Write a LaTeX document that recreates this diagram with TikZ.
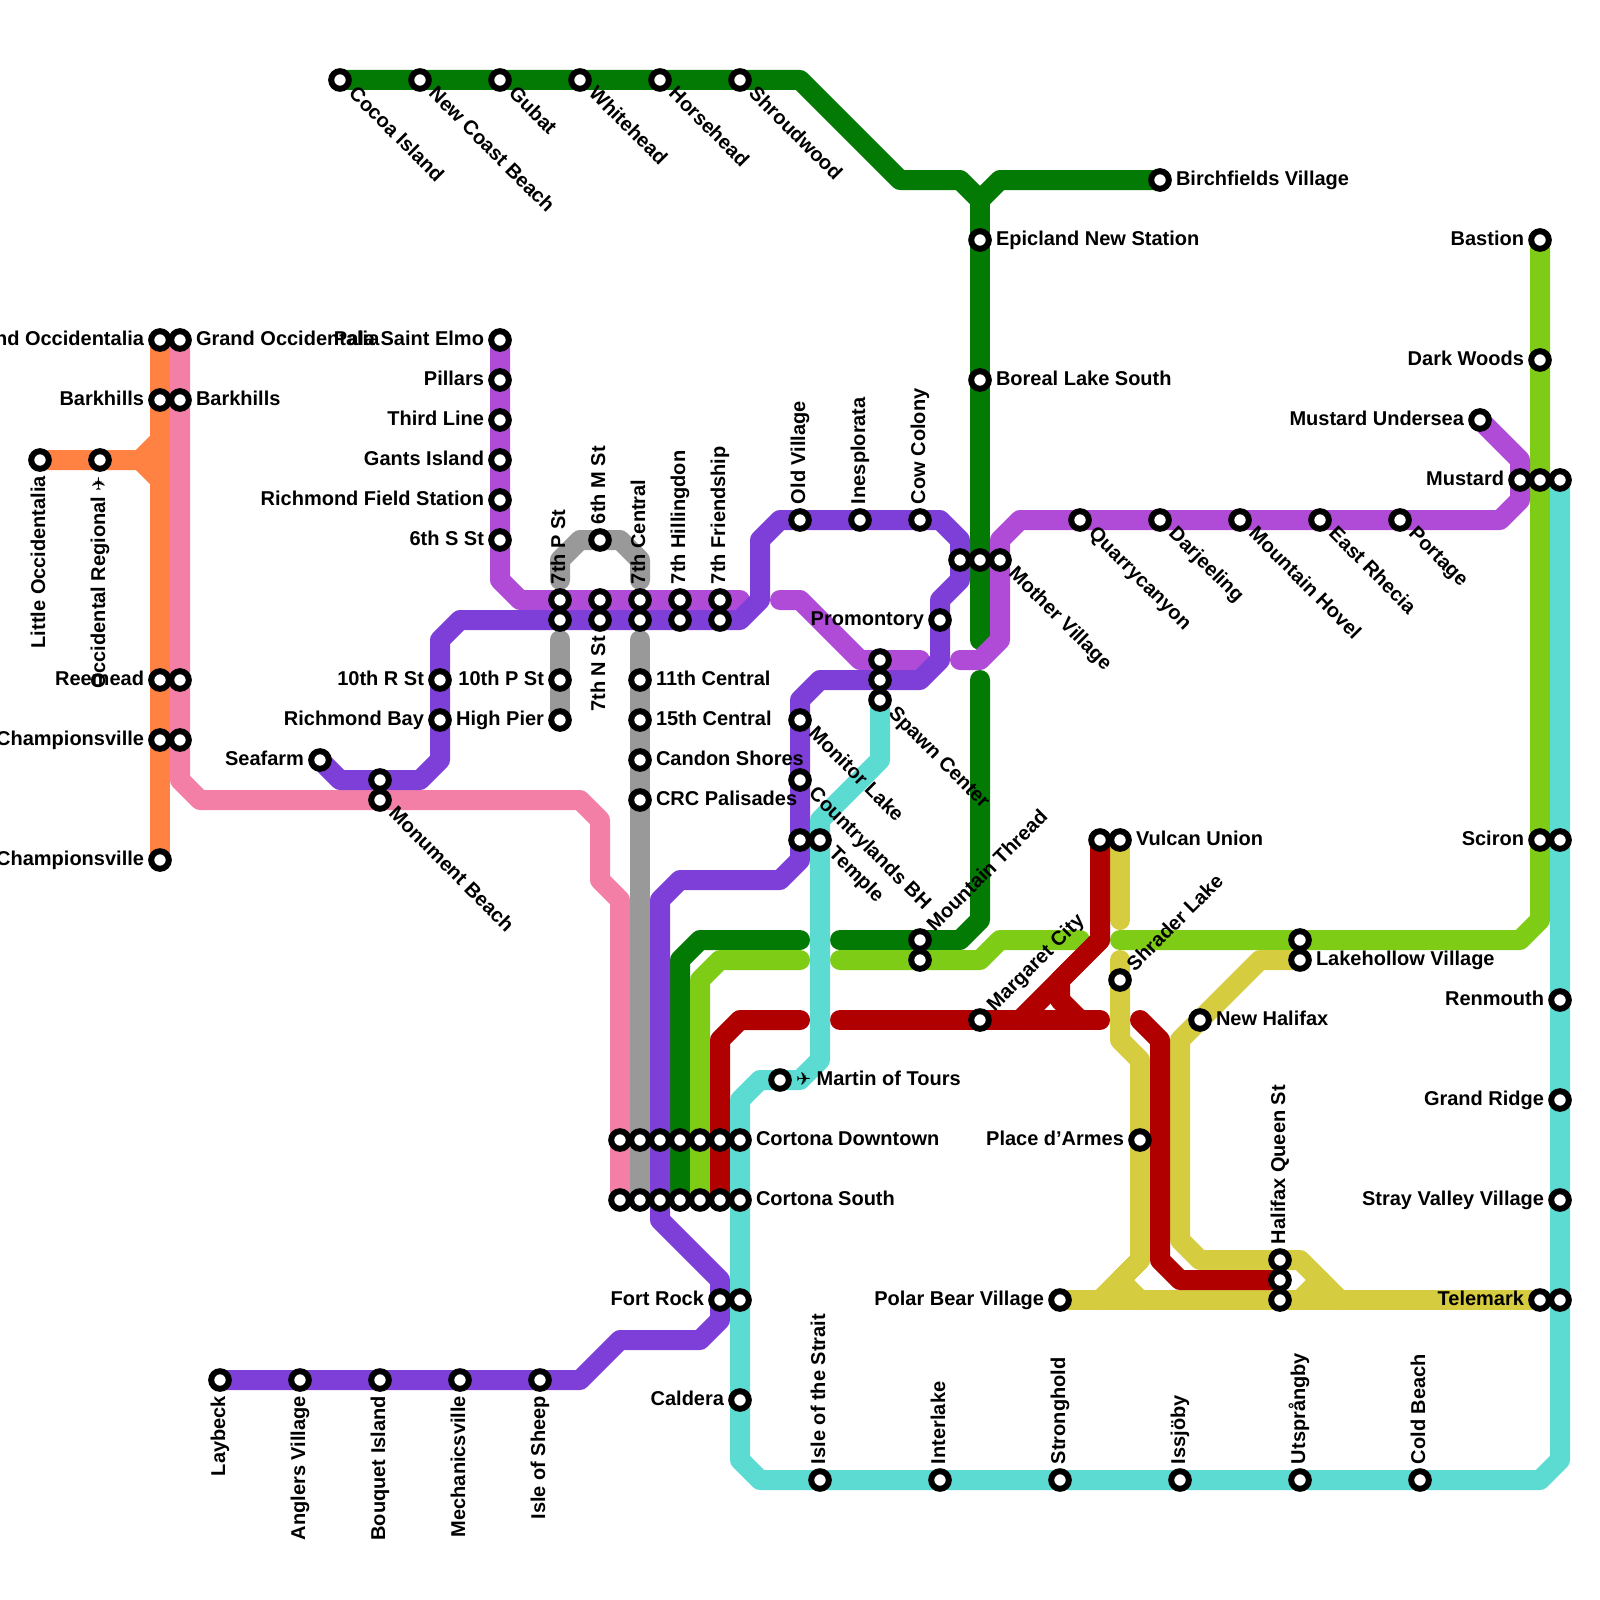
\documentclass[tikz,border=0pt]{standalone}
\usepackage{fontspec}
\setmainfont{Liberation Sans}[BoldFont={Liberation Sans Bold}]
\newfontfamily\symfont{DejaVu Sans}
\usetikzlibrary{backgrounds}
\newcommand{\plane}{{\symfont\fontsize{9}{9}\selectfont ✈}}
\tikzset{
  x=10pt,y=-10pt,
  stn/.style={circle,draw=black,fill=white,line width=3pt,minimum size=8.8pt,inner sep=0pt,outer sep=0pt},
  lab/.style={font=\bfseries\fontsize{10}{12}\selectfont,inner sep=0pt,outer sep=0pt,text=black},
  route/.style={line width=10pt,line cap=round,line join=round},
  orangeln/.style={route,draw=lnOrange},
  pinkln/.style={route,draw=lnPink},
  grayln/.style={route,draw=lnGray},
  greenln/.style={route,draw=lnGreen},
  limeln/.style={route,draw=lnLime},
  yellowln/.style={route,draw=lnYellow},
  redln/.style={route,draw=lnRed},
  orchidln/.style={route,draw=lnOrchid},
  purpleln/.style={route,draw=lnPurple},
  turqln/.style={route,draw=lnTurq},
}
\definecolor{lnOrange}{HTML}{FF8243}
\definecolor{lnPink}{HTML}{F47FA6}
\definecolor{lnGray}{HTML}{999999}
\definecolor{lnGreen}{HTML}{037A03}
\definecolor{lnLime}{HTML}{7FCC17}
\definecolor{lnYellow}{HTML}{D6CC40}
\definecolor{lnRed}{HTML}{B00000}
\definecolor{lnOrchid}{HTML}{B04BD8}
\definecolor{lnPurple}{HTML}{7E3FD8}
\definecolor{lnTurq}{HTML}{5CDBD3}
% station only
\newcommand{\st}[3]{\node[stn] (#1) at (#2,#3) {};}
% station with label: id x y text
\newcommand{\stR}[4]{\st{#1}{#2}{#3}\node[lab,anchor=base west] (#1t) at ([xshift=8pt,yshift=-2.5pt]#2,#3) {#4};}
\newcommand{\stL}[4]{\st{#1}{#2}{#3}\node[lab,anchor=base east] (#1t) at ([xshift=-8pt,yshift=-2.5pt]#2,#3) {#4};}
\newcommand{\stU}[4]{\st{#1}{#2}{#3}\node[lab,rotate=90,anchor=base west] (#1t) at ([xshift=2.5pt,yshift=8pt]#2,#3) {#4};}
\newcommand{\stD}[4]{\st{#1}{#2}{#3}\node[lab,rotate=90,anchor=base east] (#1t) at ([xshift=2.5pt,yshift=-8pt]#2,#3) {#4};}
\newcommand{\stSE}[4]{\st{#1}{#2}{#3}\node[lab,rotate=-45,anchor=base west] (#1t) at ([xshift=3.9pt,yshift=-7.4pt]#2,#3) {#4};}
\newcommand{\stNE}[4]{\st{#1}{#2}{#3}\node[lab,rotate=45,anchor=base west] (#1t) at ([xshift=7.4pt,yshift=3.9pt]#2,#3) {#4};}
\begin{document}
\begin{tikzpicture}
\clip (0,0) rectangle (80,80);
% orange
\stD{lo}{2}{23}{Little Occidentalia}
\stD{ocr}{5}{23}{Occidental Regional \plane}
\stL{goa}{8}{17}{Grand Occidentalia}
\stL{bka}{8}{20}{Barkhills}
\stL{rea}{8}{34}{Reemead}
\stL{cha}{8}{37}{Championsville}
\stL{chb}{8}{43}{Championsville}
% pink
\stR{gob}{9}{17}{Grand Occidentalia}
\stR{bkb}{9}{20}{Barkhills}
\st{reb}{9}{34}
\st{chc}{9}{37}
\stSE{mob}{19}{40}{Monument Beach}
\st{cd1}{31}{57}
\st{cs1}{31}{60}
\path (cd1) -- (cs1);
% orchid
\stL{pse}{25}{17}{Pala Saint Elmo}
\stL{pil}{25}{19}{Pillars}
\stL{thl}{25}{21}{Third Line}
\stL{gan}{25}{23}{Gants Island}
\stL{rfs}{25}{25}{Richmond Field Station}
\stL{ssx}{25}{27}{6th S St}
\stU{p7a}{28}{30}{7th P St}
\st{n7a}{30}{30}
\stU{c7a}{32}{30}{7th Central}
\stU{h7a}{34}{30}{7th Hillingdon}
\stU{f7a}{36}{30}{7th Friendship}
\st{p7b}{28}{31}
\stD{n7b}{30}{31}{7th N St}
\st{c7b}{32}{31}
\st{h7b}{34}{31}
\st{f7b}{36}{31}
\stU{m6}{30}{27}{6th M St}
\stL{r10}{22}{34}{10th R St}
\stL{rby}{22}{36}{Richmond Bay}
\stL{p10}{28}{34}{10th P St}
\stL{hip}{28}{36}{High Pier}
\stL{sea}{16}{38}{Seafarm}
\st{moa}{19}{39}
\stR{c11}{32}{34}{11th Central}
\stR{c15}{32}{36}{15th Central}
\stR{can}{32}{38}{Candon Shores}
\stR{crc}{32}{40}{CRC Palisades}
\stU{old}{40}{26}{Old Village}
\stU{ine}{43}{26}{Inesplorata}
\stU{cow}{46}{26}{Cow Colony}
\stL{pro}{47}{31}{Promontory}
\st{mva}{48}{28}
\st{mvb}{49}{28}
\stSE{mvc}{50}{28}{Mother Village}
\st{spa}{44}{33}
\st{spb}{44}{34}
\stSE{spc}{44}{35}{Spawn Center}
\stSE{mon}{40}{36}{Monitor Lake}
\stSE{cou}{40}{39}{Countrylands BH}
\st{tma}{40}{42}
\stSE{tmb}{41}{42}{Temple}
\stNE{mta}{46}{47}{Mountain Thread}
\st{mtb}{46}{48}
\stNE{mar}{49}{51}{Margaret City}
\st{vua}{55}{42}
\stR{vub}{56}{42}{Vulcan Union}
\stNE{shr}{56}{49}{Shrader Lake}
\st{lka}{65}{47}
\stR{lkb}{65}{48}{Lakehollow Village}
\stR{nha}{60}{51}{New Halifax}
\stR{mtr}{39}{54}{\plane\ Martin of Tours}
\st{cd2}{32}{57}\st{cd3}{33}{57}\st{cd4}{34}{57}\st{cd5}{35}{57}\st{cd6}{36}{57}
\stR{cd7}{37}{57}{Cortona Downtown}
\st{cs2}{32}{60}\st{cs3}{33}{60}\st{cs4}{34}{60}\st{cs5}{35}{60}\st{cs6}{36}{60}
\stR{cs7}{37}{60}{Cortona South}
\stL{fra}{36}{65}{Fort Rock}
\st{frb}{37}{65}
\stL{cal}{37}{70}{Caldera}
\stL{pda}{57}{57}{Place d’Armes}
\stL{pol}{53}{65}{Polar Bear Village}
\stU{hqa}{64}{63}{Halifax Queen St}
\st{hqb}{64}{64}
\st{hqc}{64}{65}
\stL{tea}{77}{65}{Telemark}
\st{teb}{78}{65}
\stL{sca}{77}{42}{Sciron}
\st{scb}{78}{42}
\stL{bas}{77}{12}{Bastion}
\stL{dkw}{77}{18}{Dark Woods}
\stL{mun}{74}{21}{Mustard Undersea}
\stL{mua}{76}{24}{Mustard}
\st{mub}{77}{24}
\st{muc}{78}{24}
\stL{ren}{78}{50}{Renmouth}
\stL{gri}{78}{55}{Grand Ridge}
\stL{svv}{78}{60}{Stray Valley Village}
\stR{bir}{58}{9}{Birchfields Village}
\stR{epi}{49}{12}{Epicland New Station}
\stR{bor}{49}{19}{Boreal Lake South}
\stSE{qua}{54}{26}{Quarrycanyon}
\stSE{dar}{58}{26}{Darjeeling}
\stSE{mho}{62}{26}{Mountain Hovel}
\stSE{ear}{66}{26}{East Rhecia}
\stSE{por}{70}{26}{Portage}
\stSE{coc}{17}{4}{Cocoa Island}
\stSE{ncb}{21}{4}{New Coast Beach}
\stSE{gub}{25}{4}{Gubat}
\stSE{whi}{29}{4}{Whitehead}
\stSE{hor}{33}{4}{Horsehead}
\stSE{shr2}{37}{4}{Shroudwood}
\stD{lay}{11}{69}{Laybeck}
\stD{ang}{15}{69}{Anglers Village}
\stD{bou}{19}{69}{Bouquet Island}
\stD{mec}{23}{69}{Mechanicsville}
\stD{ios}{27}{69}{Isle of Sheep}
\stU{str}{41}{74}{Isle of the Strait}
\stU{int}{47}{74}{Interlake}
\stU{sto}{53}{74}{Stronghold}
\stU{iss}{59}{74}{Issjöby}
\stU{uts}{65}{74}{Utsprångby}
\stU{cob}{71}{74}{Cold Beach}
\begin{pgfonlayer}{background}
% orange
\draw[orangeln] (lo.center) -- (7,23) -- (8,22);
\draw[orangeln] (7,23) -- (8,24);
\draw[orangeln] (goa.center) -- (chb.center);
% pink
\draw[pinkln] (gob.center) -- (9,39) -- (10,40) -- (29,40) -- (30,41) -- (30,44) -- (31,45) -- (cs1.center);
% gray
\draw[grayln] (28,29) -- (28,28) -- (29,27) -- (31,27) -- (32,28) -- (32,29);
\draw[grayln] (p7b.center) ++(0,1) -- (hip.center);
\draw[grayln] (c7b.center) ++(0,1) -- (cs2.center);
% green
\draw[greenln] (coc.center) -- (40,4) -- (45,9) -- (48,9) -- (49,10) -- (50,9) -- (bir.center);
\draw[greenln] (49,10) -- (49,32);
\draw[greenln] (49,34) -- (49,46) -- (48,47) -- (42,47);
\draw[greenln] (40,47) -- (35,47) -- (34,48) -- (cs4.center);
% lime
\draw[limeln] (bas.center) -- (77,46) -- (76,47) -- (56,47);
\draw[limeln] (54,47) -- (50,47) -- (49,48) -- (42,48);
\draw[limeln] (40,48) -- (36,48) -- (35,49) -- (cs5.center);
% yellow
\draw[yellowln] (vub.center) -- (56,46);
\draw[yellowln] (56,48) -- (56,52) -- (57,53) -- (57,63) -- (55,65);
\draw[yellowln] (57,63) -- (56,64) -- (57,65);
\draw[yellowln] (pol.center) -- (tea.center);
\draw[yellowln] (lkb.center) -- (63,48) -- (59,52) -- (59,62) -- (60,63) -- (65,63) -- (67,65);
\draw[yellowln] (66,64) -- (65,65);
% red
\draw[redln] (cs6.center) -- (36,52) -- (37,51) -- (40,51);
\draw[redln] (42,51) -- (55,51);
\draw[redln] (vua.center) -- (55,47) -- (51,51);
\draw[redln] (55,47) -- (53,49) -- (53,50) -- (54,51);
\draw[redln] (57,51) -- (58,52) -- (58,63) -- (59,64) -- (hqb.center);
% orchid
\draw[orchidln] (pse.center) -- (25,29) -- (26,30) -- (37,30);
\draw[orchidln] (39,30) -- (40,30) -- (43,33) -- (46,33);
\draw[orchidln] (48,33) -- (49,33) -- (50,32) -- (50,27) -- (51,26) -- (75,26) -- (76,25) -- (76,23) -- (mun.center);
% purple
\draw[purpleln] (sea.center) -- (17,39) -- (21,39) -- (22,38) -- (22,32) -- (23,31) -- (37,31) -- (38,30) -- (38,27) -- (39,26) -- (47,26) -- (48,27) -- (48,29) -- (47,30) -- (47,33) -- (46,34) -- (41,34) -- (40,35) -- (40,43) -- (39,44) -- (34,44) -- (33,45) -- (33,61) -- (36,64) -- (36,66) -- (35,67) -- (31,67) -- (29,69) -- (lay.center);
% turquoise
\draw[turqln] (spc.center) -- (44,38) -- (41,41) -- (41,53) -- (40,54) -- (38,54) -- (37,55) -- (37,73) -- (38,74) -- (77,74) -- (78,73) -- (muc.center);
\end{pgfonlayer}
\end{tikzpicture}
\end{document}
